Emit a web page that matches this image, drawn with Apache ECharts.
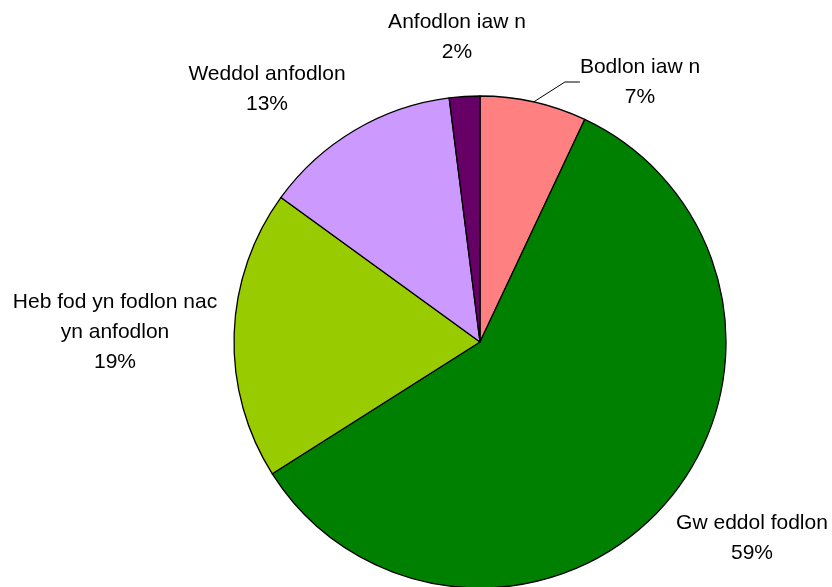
<!DOCTYPE html>
<html><head><meta charset="utf-8">
<script src="https://cdn.jsdelivr.net/npm/echarts@6/dist/echarts.min.js"></script>
<style>html,body{margin:0;padding:0;background:#fff}#c{width:832px;height:587px}</style>
</head><body><div id="c"></div>
<script>
var categories = ['Bodlon iaw n', 'Gw eddol fodlon', 'Heb fod yn fodlon nac\nyn anfodlon', 'Weddol anfodlon', 'Anfodlon iaw n'];
var values = [7, 59, 19, 13, 2];
var colors = ['#FF8080', '#008000', '#99CC00', '#CC99FF', '#660066'];
// label anchor positions (layout only)
var labelPos = [[640, 82], [752, 538], [115, 332], [267, 89], [457, 37]];

var chart = echarts.init(document.getElementById('c'));
chart.setOption({
  animation: false,
  series: [{
    type: 'pie',
    center: [480, 342],
    radius: 246,
    startAngle: 90,
    clockwise: true,
    percentPrecision: 0,
    data: categories.map(function (n, i) {
      var d = {
        name: n, value: values[i],
        itemStyle: { color: colors[i] },
        labelLine: { show: i === 0 }
      };
      if (i !== 0) d.label = { width: 240 };
      return d;
    }),
    itemStyle: { borderColor: '#000', borderWidth: 1.3 },
    emphasis: { disabled: true },
    label: {
      show: true, position: 'outside',
      formatter: '{b}\n{d}%',
      fontFamily: 'Liberation Sans, Arial, sans-serif',
      fontSize: 21, lineHeight: 30, color: '#000', align: 'center',
      overflow: 'none'
    },
    labelLine: { show: true, length: 15, length2: 15, smooth: false, lineStyle: { color: '#000', width: 1 } },
    labelLayout: function (p) {
      var pos = labelPos[p.dataIndex];
      return { x: pos[0], y: pos[1], align: 'center', verticalAlign: 'middle' };
    }
  }]
});
</script></body></html>
